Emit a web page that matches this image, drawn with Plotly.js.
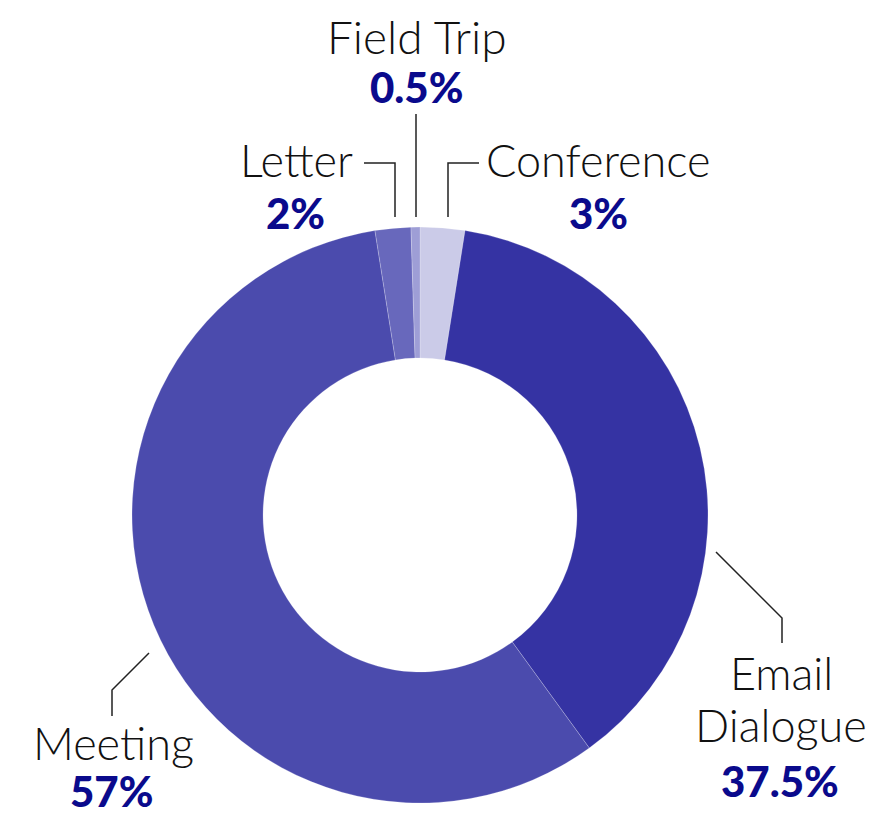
<!DOCTYPE html>
<html>
<head>
<meta charset="utf-8">
<script src="https://cdn.plot.ly/plotly-3.0.1.min.js"></script>
<style>html,body{margin:0;padding:0;background:#fff;}#chart{width:873px;height:816px;}</style>
</head>
<body>
<div id="chart"></div>
<script>
// Data
const categories = ["Conference", "Email Dialogue", "Meeting", "Letter", "Field Trip"];
const values = [2.5, 37.5, 57.5, 2, 0.5];
const nameLabels = ["Conference", "Email<br>Dialogue", "Meeting", "Letter", "Field Trip"];
const pctLabels = ["3%", "37.5%", "57%", "2%", "0.5%"];
const colors = ["#cbcbe8", "#3533a3", "#4b4bad", "#6868bc", "#9e9ed6"];

const W = 873, H = 816;
const px = x => x / W;
const py = y => 1 - y / H;

// label placement (pixels): first name-line center, percent center
const labelPos = [
  {nx: 598, ny: 160, ns: 45, px: 598, py: 213},   // Conference
  {nx: 781, ny: 673, ns: 45, px: 780, py: 781},   // Email Dialogue
  {nx: 113, ny: 743, ns: 45, px: 112, py: 791},   // Meeting
  {nx: 296, ny: 160, ns: 45, px: 295, py: 213},   // Letter
  {nx: 417, ny: 37,  ns: 46, px: 416, py: 87}     // Field Trip
];
const lineGap = 52;
// leader lines (pixels)
const leaders = [
  [[448,217],[448,163],[479,163]],
  [[716,552],[782,618],[782,643]],
  [[149,653],[112,690],[112,716]],
  [[395,217],[395,163],[364,163]],
  [[416,217],[416,114]]
];

const annotations = [];
const shapes = [];
categories.forEach((c, i) => {
  const p = labelPos[i];
  nameLabels[i].split('<br>').forEach((line, j) => {
    annotations.push({
      xref: 'paper', yref: 'paper', x: px(p.nx), y: py(p.ny + j * lineGap),
      xanchor: 'center', yanchor: 'middle', showarrow: false,
      text: line,
      font: {family: 'Lato, "Open Sans", sans-serif', size: p.ns, color: '#111111', weight: 300}
    });
  });
  annotations.push({
    xref: 'paper', yref: 'paper', x: px(p.px), y: py(p.py),
    xanchor: 'center', yanchor: 'middle', showarrow: false,
    text: pctLabels[i],
    font: {family: 'Lato, "Open Sans", sans-serif', size: 42, color: '#0a0a8c', weight: 900}
  });
  const pts = leaders[i];
  let d = 'M ' + px(pts[0][0]) + ' ' + py(pts[0][1]);
  for (let k = 1; k < pts.length; k++) d += ' L ' + px(pts[k][0]) + ' ' + py(pts[k][1]);
  shapes.push({type: 'path', xref: 'paper', yref: 'paper', path: d,
    line: {color: '#222222', width: 1.5}});
});

const trace = {
  type: 'pie',
  labels: categories,
  values: values,
  sort: false,
  direction: 'clockwise',
  rotation: 0,
  hole: 0.545,
  textinfo: 'none',
  hoverinfo: 'label+percent',
  marker: {colors: colors, line: {color: 'rgba(255,255,255,0.35)', width: 0.6}},
  domain: {x: [132 / W, 708 / W], y: [1 - 803 / H, 1 - 227 / H]},
  showlegend: false
};

const layout = {
  width: W, height: H,
  margin: {l: 0, r: 0, t: 0, b: 0},
  paper_bgcolor: '#ffffff',
  plot_bgcolor: '#ffffff',
  showlegend: false,
  annotations: annotations,
  shapes: shapes
};

Plotly.newPlot('chart', [trace], layout, {displayModeBar: false, staticPlot: true});
</script>
</body>
</html>
